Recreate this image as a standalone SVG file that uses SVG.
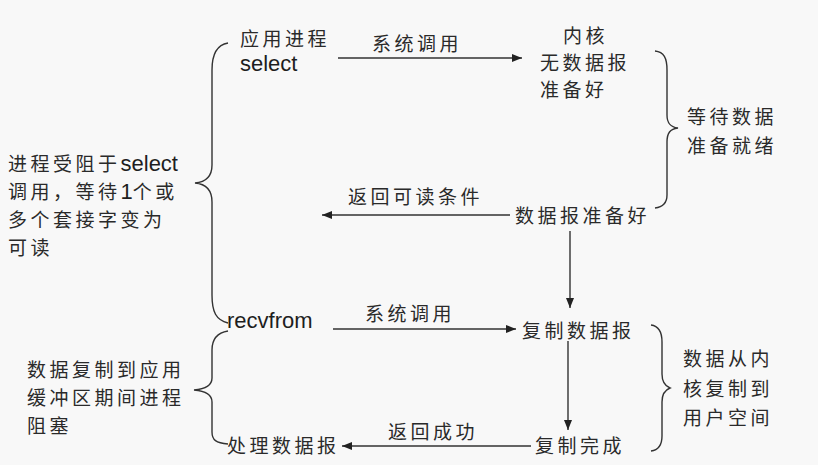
<svg xmlns="http://www.w3.org/2000/svg" width="818" height="465" viewBox="0 0 818 465">
  <style>
    .t { font-family: "Noto Sans CJK SC", "Liberation Sans", sans-serif; font-size: 19px; letter-spacing: 3.5px; fill: #2a2a2a; }
    .l { font-family: "Liberation Sans", Arial, sans-serif; font-size: 22px; letter-spacing: 0; fill: #1e1e1e; }
    .line { stroke: #333; stroke-width: 1.4; fill: none; }
    .brace { stroke: #333; stroke-width: 1.4; fill: none; }
  </style>
  <defs>
    <marker id="arrow" viewBox="0 0 10 8" refX="10" refY="4" markerWidth="10" markerHeight="8" markerUnits="userSpaceOnUse" orient="auto">
      <path d="M0,0 L10,4 L0,8 Z" fill="#222"/>
    </marker>
  </defs>
  <rect width="818" height="465" fill="#f8f8f8"/>

  <!-- braces -->
  <g id="braces">
    <path class="brace" d="M228,43 C216,45 212,55 212,70 L212,165 C212,177 206,182 195,183 C206,184 212,190 212,202 L212,295 C212,312 216,320 228,323"/>
    <path class="brace" d="M228,331 C216,333 212,340 212,350 L212,378 C212,385 206,389 194,390 C206,391 212,395 212,402 L212,432 C212,440 216,443 228,444"/>
    <path class="brace" d="M655,51 C664,52 667,58 667,70 L667,115 C667,123 670,127 678,128 C670,129 667,133 667,142 L667,195 C667,203 663,207 655,208"/>
    <path class="brace" d="M651,325 C659,326 662,332 662,342 L662,374 C662,382 665,386 670,388 C665,390 662,394 662,402 L662,436 C662,445 659,450 651,451"/>
  </g>

  <!-- connectors -->
  <g id="connectors">
    <line class="line" x1="338" y1="58" x2="522" y2="58" marker-end="url(#arrow)"/>
    <line class="line" x1="510" y1="215" x2="322" y2="215" marker-end="url(#arrow)"/>
    <line class="line" x1="570" y1="231" x2="570" y2="308" marker-end="url(#arrow)"/>
    <line class="line" x1="333" y1="329" x2="516" y2="329" marker-end="url(#arrow)"/>
    <line class="line" x1="568" y1="341" x2="568" y2="430" marker-end="url(#arrow)"/>
    <line class="line" x1="531" y1="446" x2="342" y2="446" marker-end="url(#arrow)"/>
  </g>

  <!-- edge labels -->
  <g id="edge-labels">
    <text class="t" x="372" y="51">系统调用</text>
    <text class="t" x="348" y="204">返回可读条件</text>
    <text class="t" x="365" y="321">系统调用</text>
    <text class="t" x="388" y="439">返回成功</text>
  </g>

  <g id="app-select">
    <text class="t" x="240" y="46">应用进程</text>
    <text class="l" x="240" y="71">select</text>
  </g>

  <g id="kernel-nodata">
    <text class="t" x="563" y="43">内核</text>
    <text class="t" x="540" y="70">无数据报</text>
    <text class="t" x="540" y="97">准备好</text>
  </g>

  <g id="wait-data">
    <text class="t" x="687" y="124">等待数据</text>
    <text class="t" x="687" y="153">准备就绪</text>
  </g>

  <g id="blocked-select">
    <text class="t" x="8" y="171">进程受阻于<tspan class="l" font-size="21">select</tspan></text>
    <text class="t" x="8" y="199">调用，等待<tspan class="l" font-size="21">1</tspan>个或</text>
    <text class="t" x="8" y="227">多个套接字变为</text>
    <text class="t" x="8" y="255">可读</text>
  </g>

  <g id="datagram-ready">
    <text class="t" x="515" y="223">数据报准备好</text>
  </g>

  <g id="recvfrom">
    <text class="l" x="227" y="328">recvfrom</text>
  </g>

  <g id="copy-datagram">
    <text class="t" x="522" y="338">复制数据报</text>
  </g>

  <g id="copy-to-user">
    <text class="t" x="683" y="366">数据从内</text>
    <text class="t" x="683" y="396">核复制到</text>
    <text class="t" x="683" y="425">用户空间</text>
  </g>

  <g id="blocked-copy">
    <text class="t" x="27" y="377">数据复制到应用</text>
    <text class="t" x="27" y="405">缓冲区期间进程</text>
    <text class="t" x="27" y="433">阻塞</text>
  </g>

  <g id="copy-done">
    <text class="t" x="535" y="453">复制完成</text>
  </g>

  <g id="process-datagram">
    <text class="t" x="227" y="453">处理数据报</text>
  </g>
</svg>
